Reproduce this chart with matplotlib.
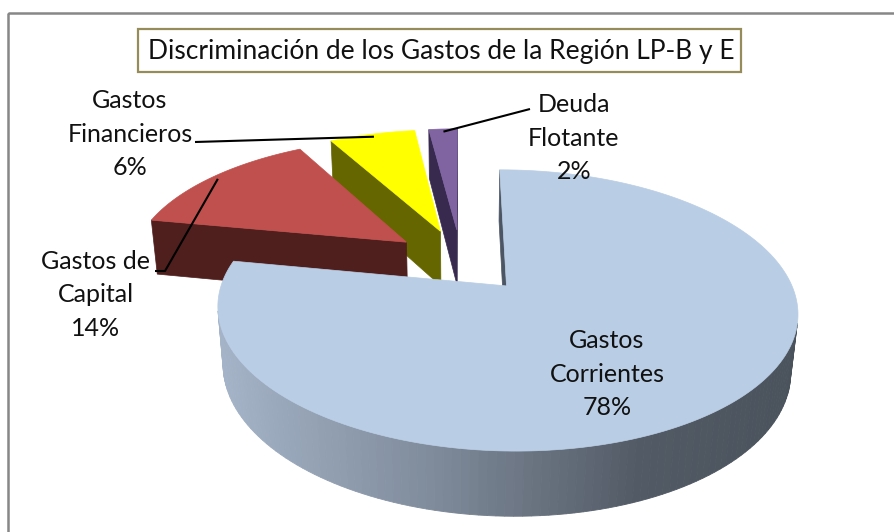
import numpy as np
import matplotlib
matplotlib.use("Agg")
import matplotlib.pyplot as plt
from matplotlib.patches import Polygon, Rectangle

# chart data
categories = ["Gastos\nCorrientes", "Gastos de\nCapital", "Gastos\nFinancieros", "Deuda\nFlotante"]
percentages = [78, 14, 6, 2]
top_colors = ["#B9CDE5", "#C0504D", "#FFFF00", "#8064A2"]
face_colors = ["#4B5563", "#4F1F1E", "#666600", "#382A4E"]
title = "Discriminación de los Gastos de la Región LP-B y E"

# label layout (pixel positions of the text centres, leader start points)
label_xy = [(607, 374), (96, 295), (130, 134), (574, 138)]
leader_start = [None, [(155, 271), (165, 271)], [(195, 142)], [(530, 109)]]

# 3d view settings
SIN_E = 0.462
COS_E = np.sqrt(1 - SIN_E ** 2)
CAM_DIST = 5.25
FOCAL = 1450
ORIGIN = (461, 260.5)
EXPLODE = 0.25
THICK = 0.234

W, H = 895, 532


def project(x, y, z):
    depth = CAM_DIST + y * COS_E - z * SIN_E
    sx = FOCAL * x / depth
    sy = FOCAL * (y * SIN_E + z * COS_E) / depth
    return ORIGIN[0] + sx, ORIGIN[1] - sy


def visible(px, py, pz, nx, ny):
    cam = np.array([0, -CAM_DIST * COS_E, CAM_DIST * SIN_E])
    return (cam[0] - px) * nx + (cam[1] - py) * ny > 0


def side_gradient(x):
    xs = [215, 430, 640, 800]
    cols = np.array([(166, 181, 201), (128, 140, 156), (82, 90, 101), (74, 82, 92)]) / 255
    return tuple(np.interp(x, xs, cols[:, k]) for k in range(3))


fig = plt.figure(figsize=(W / 100, H / 100), dpi=100)
ax = fig.add_axes([0, 0, 1, 1])
ax.set_xlim(0, W)
ax.set_ylim(H, 0)
ax.axis("off")

# chart frame and title box
ax.add_patch(Rectangle((8, 13), W, H, fill=False, edgecolor="#878787", lw=1.8))
ax.add_patch(Rectangle((138, 29), 603, 43, fill=False, edgecolor="#968C5A", lw=1.6))
ax.text(441, 51, title, ha="center", va="center", fontsize=19, family="Lato", color="#111111")

fracs = np.array(percentages) / sum(percentages)
cum = np.concatenate([[0], np.cumsum(fracs)])
starts = 90 - 360 * cum[:-1]
ends = 90 - 360 * cum[1:]

slices = []
for i in range(len(percentages)):
    a0, a1 = np.radians(ends[i]), np.radians(starts[i])
    mid = (a0 + a1) / 2
    ox, oy = EXPLODE * np.cos(mid), EXPLODE * np.sin(mid)
    depth = CAM_DIST + oy * COS_E
    slices.append((depth, i, a0, a1, mid, ox, oy))

anchors = {}
for depth, i, a0, a1, mid, ox, oy in sorted(slices, reverse=True):
    z = 0.0
    zb = -THICK
    # radial faces
    for a, sign in ((a0, 1), (a1, -1)):
        nx, ny = (np.sin(a), -np.cos(a)) if sign == 1 else (-np.sin(a), np.cos(a))
        if visible(ox, oy, 0, nx, ny):
            ex, ey = ox + np.cos(a), oy + np.sin(a)
            pts = [project(ox, oy, z), project(ex, ey, z), project(ex, ey, zb), project(ox, oy, zb)]
            ax.add_patch(Polygon(pts, closed=True, facecolor=face_colors[i],
                                 edgecolor=face_colors[i], lw=0.5))
    # outer wall
    n = max(int(np.degrees(a1 - a0) / 1.5), 4)
    ts = np.linspace(a0, a1, n + 1)
    for t0, t1 in zip(ts[:-1], ts[1:]):
        tm = (t0 + t1) / 2
        if not visible(ox + np.cos(tm), oy + np.sin(tm), 0, np.cos(tm), np.sin(tm)):
            continue
        pts = [project(ox + np.cos(t0), oy + np.sin(t0), z),
               project(ox + np.cos(t1), oy + np.sin(t1), z),
               project(ox + np.cos(t1), oy + np.sin(t1), zb),
               project(ox + np.cos(t0), oy + np.sin(t0), zb)]
        col = side_gradient(np.mean([p[0] for p in pts])) if i == 0 else face_colors[i]
        ax.add_patch(Polygon(pts, closed=True, facecolor=col, edgecolor=col, lw=0.6))
    # top face
    ts = np.linspace(a0, a1, n * 2 + 1)
    pts = [project(ox, oy, z)] + [project(ox + np.cos(t), oy + np.sin(t), z) for t in ts]
    ax.add_patch(Polygon(pts, closed=True, facecolor=top_colors[i], edgecolor=top_colors[i], lw=0.5))
    anchors[i] = project(ox + 0.97 * np.cos(mid), oy + 0.97 * np.sin(mid), z)

# leader lines
for i, start in enumerate(leader_start):
    if start is None:
        continue
    xs = [p[0] for p in start] + [anchors[i][0]]
    ys = [p[1] for p in start] + [anchors[i][1]]
    ax.plot(xs, ys, color="black", lw=1.5, solid_capstyle="butt")

# data labels
for i, (x, y) in enumerate(label_xy):
    ax.text(x, y, f"{categories[i]}\n{percentages[i]}%", ha="center", va="center",
            fontsize=18, family="Lato", color="#111111", linespacing=1.56)

fig.savefig("out.png", dpi=100)
